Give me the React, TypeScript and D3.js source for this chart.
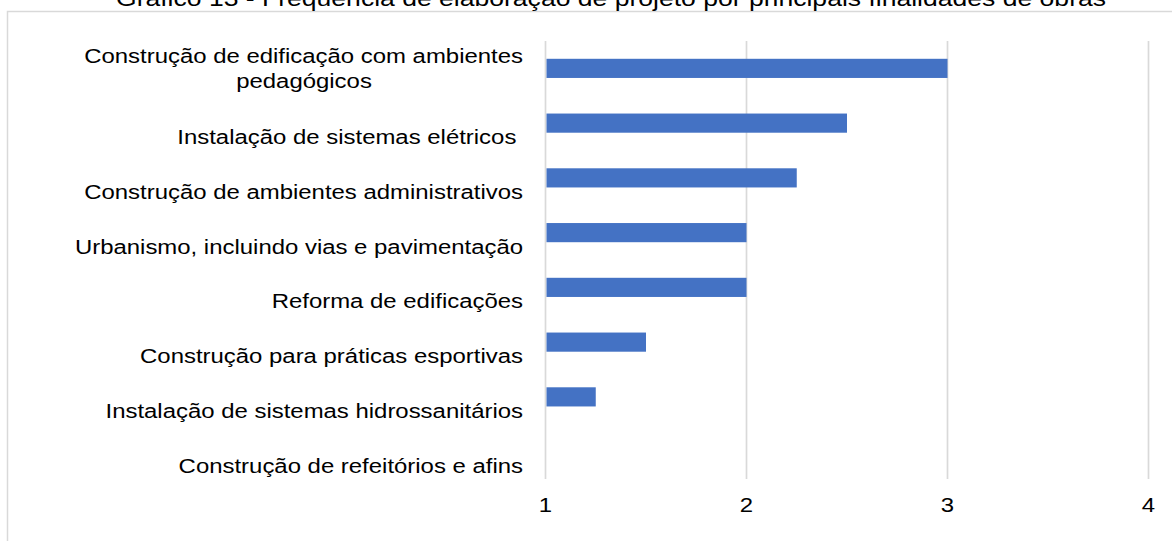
import React from "react";
import * as d3 from "d3";

const categories: string[][] = [
  ["Construção de edificação com ambientes", "pedagógicos"],
  ["Instalação de sistemas elétricos "],
  ["Construção de ambientes administrativos"],
  ["Urbanismo, incluindo vias e pavimentação"],
  ["Reforma de edificações"],
  ["Construção para práticas esportivas"],
  ["Instalação de sistemas hidrossanitários"],
  ["Construção de refeitórios e afins"],
];
const values: number[] = [3, 2.5, 2.25, 2, 2, 1.5, 1.25, 1];
const xTicks: number[] = [1, 2, 3, 4];
const title =
  "Gráfico 13 - Frequência de elaboração de projeto por principais finalidades de obras";

const W = 1172;
const H = 541;
const FONT = "'Liberation Sans', Arial, sans-serif";
const SX = 1.14;

export default function App() {
  const x = d3.scaleLinear().domain([1, 4]).range([545.5, 1148.5]);
  const y = d3
    .scaleBand<number>()
    .domain(d3.range(categories.length))
    .range([41, 479])
    .paddingInner(0.65)
    .paddingOuter(0.325);
  const band = d3
    .scaleBand<number>()
    .domain(d3.range(categories.length))
    .range([41, 479]);

  const label = (s: string, tx: number, ty: number, anchor: string, key?: any) => (
    <text
      key={key}
      transform={`translate(${tx},${ty}) scale(${SX},1)`}
      x={0}
      y={0}
      textAnchor={anchor as any}
      fontFamily={FONT}
      fontSize={21}
      fill="#000"
      style={{ whiteSpace: "pre" }}
    >
      {s}
    </text>
  );

  return (
    <svg
      width={W}
      height={H}
      style={{ position: "absolute", left: 0, top: 0, background: "#fff" }}
    >
      <rect x={7.5} y={11.5} width={W + 20} height={H + 20} fill="#fff" stroke="#d9d9d9" strokeWidth={1.5} />
      <text
        x={611}
        y={6}
        textAnchor="middle"
        fontFamily={FONT}
        fontSize={22}
        fill="#000"
        textLength={990}
        lengthAdjust="spacingAndGlyphs"
      >
        {title}
      </text>
      {xTicks.map((t) => (
        <g key={t}>
          <line x1={x(t)} x2={x(t)} y1={41} y2={479} stroke="#d9d9d9" strokeWidth={1.7} />
          {label(String(t), x(t), 512, "middle")}
        </g>
      ))}
      {values.map((v, i) => (
        <rect
          key={i}
          x={x(1) + 1}
          y={y(i)!}
          width={Math.max(0, x(v) - x(1) - 1)}
          height={y.bandwidth()}
          fill="#4472C4"
        />
      ))}
      {categories.map((lines, i) => {
        const c = band(i)! + band.bandwidth() / 2;
        if (lines.length === 1) {
          return label(lines[0], 523, c + 21, "end", i);
        }
        return (
          <g key={i}>
            {label(lines[0], 523, c - 5, "end")}
            {label(lines[1], 304, c + 20, "middle")}
          </g>
        );
      })}
    </svg>
  );
}
